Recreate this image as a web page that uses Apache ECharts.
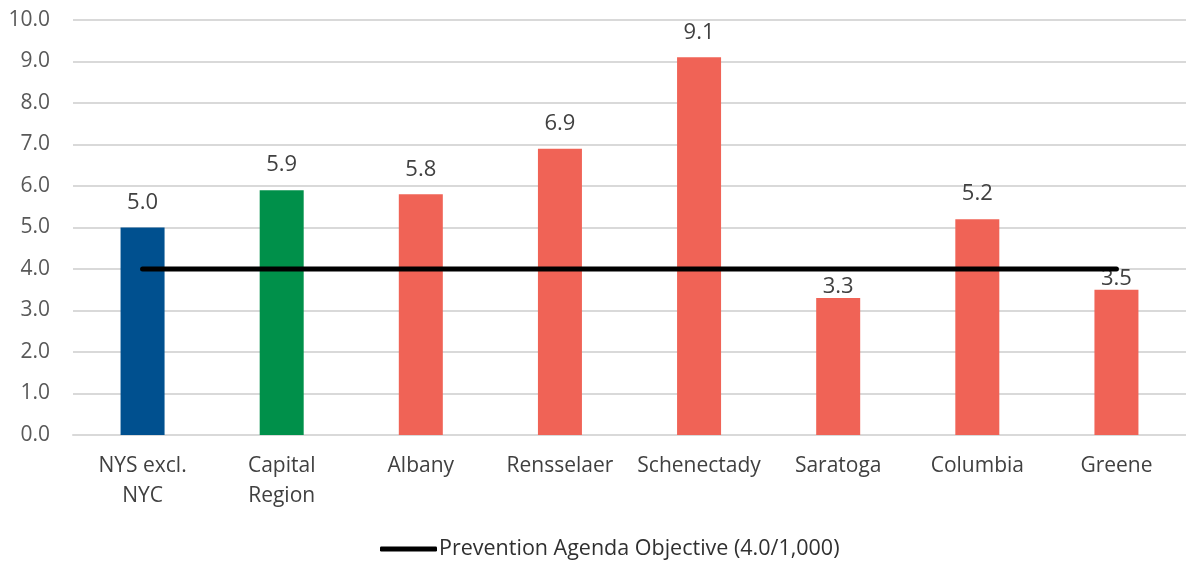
<!DOCTYPE html>
<html><head><meta charset="utf-8">
<script src="https://cdn.jsdelivr.net/npm/echarts@6/dist/echarts.min.js"></script>
<style>html,body{margin:0;padding:0;background:#fff}#c{width:1186px;height:561px}</style>
</head><body><div id="c"></div>
<script>
const categories = ["NYS excl.\nNYC", "Capital\nRegion", "Albany", "Rensselaer", "Schenectady", "Saratoga", "Columbia", "Greene"];
const rates = [5.0, 5.9, 5.8, 6.9, 9.1, 3.3, 5.2, 3.5];
const objective = [4.0, 4.0, 4.0, 4.0, 4.0, 4.0, 4.0, 4.0];
const objectiveName = "Prevention Agenda Objective (4.0/1,000)";
const barColors = ["#00508F", "#00904A", "#F06356", "#F06356", "#F06356", "#F06356", "#F06356", "#F06356"];
const labelDistances = [14, 14, 14, 14, 14, 0, 14, 0];

const font = "'Open Sans', sans-serif";
const chart = echarts.init(document.getElementById('c'), null, {renderer: 'canvas'});
chart.setOption({
  animation: false,
  grid: {left: 73, top: 20, width: 1120, bottom: 126},
  legend: {
    left: 380, top: 538, padding: 0,
    data: [{name: objectiveName, icon: 'roundRect'}],
    itemWidth: 57, itemHeight: 5, itemGap: 2,
    textStyle: {fontFamily: font, fontSize: 21.5, color: '#303030', padding: [0,0,0,-3]}
  },
  xAxis: {
    type: 'category', data: categories,
    axisLine: {lineStyle: {color: '#d9d9d9', width: 2}},
    axisTick: {show: false},
    axisLabel: {fontFamily: font, fontSize: 21, color: '#404040', lineHeight: 30, margin: 16, interval: 0}
  },
  yAxis: {
    type: 'value', min: 0, max: 10, interval: 1,
    axisLine: {show: false}, axisTick: {show: false},
    splitLine: {lineStyle: {color: '#d9d9d9', width: 2}},
    axisLabel: {fontFamily: font, fontSize: 21, color: '#595959', margin: 23,
      formatter: v => v.toFixed(1)}
  },
  series: [
    {
      type: 'bar', name: 'Rate', barWidth: 44,
      data: rates.map((v, i) => ({value: v, itemStyle: {color: barColors[i]},
        label: {distance: labelDistances[i]}})),
      label: {show: true, position: 'top', fontFamily: font, fontSize: 22, color: '#404040',
        formatter: p => p.value.toFixed(1)},
      z: 2
    },
    {
      type: 'line', name: objectiveName, data: objective,
      showSymbol: false, symbol: 'none',
      itemStyle: {color: '#000'},
      lineStyle: {color: '#000', width: 5, cap: 'round'},
      z: 3
    }
  ]
});
</script></body></html>
